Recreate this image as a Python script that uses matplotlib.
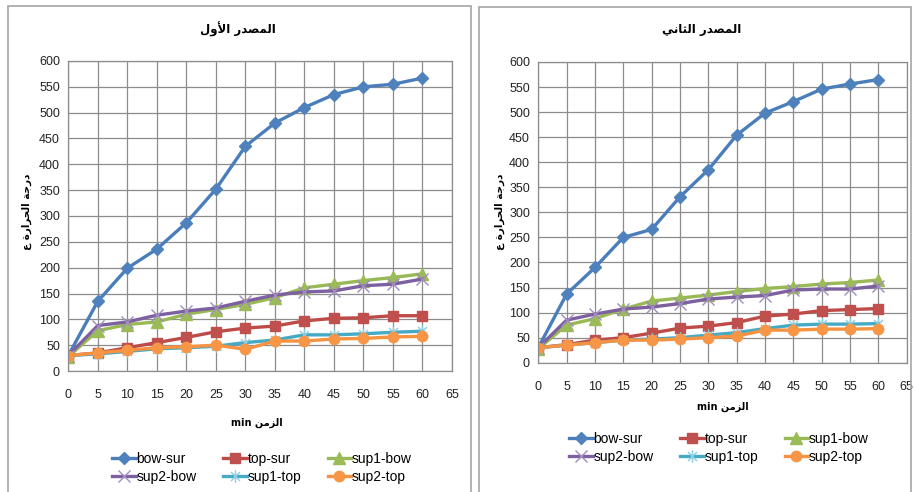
import matplotlib
matplotlib.use("Agg")
import matplotlib.pyplot as plt
from matplotlib.path import Path
from matplotlib.patches import Rectangle

# time axis (min)
minutes = [0, 5, 10, 15, 20, 25, 30, 35, 40, 45, 50, 55, 60]

series_names = ["bow-sur", "top-sur", "sup1-bow", "sup2-bow", "sup1-top", "sup2-top"]

# first source
src1_bow_sur = [30, 135, 199, 236, 287, 352, 435, 480, 510, 535, 550, 555, 567]
src1_top_sur = [30, 35, 45, 55, 65, 76, 83, 87, 97, 102, 103, 107, 107]
src1_sup1_bow = [28, 78, 90, 95, 110, 119, 129, 142, 161, 168, 175, 181, 188]
src1_sup2_bow = [30, 88, 95, 108, 116, 122, 135, 147, 153, 155, 165, 168, 178]
src1_sup1_top = [30, 33, 38, 43, 45, 48, 55, 60, 70, 70, 72, 75, 77]
src1_sup2_top = [30, 35, 40, 45, 47, 50, 42, 58, 58, 62, 63, 66, 67]

# second source
src2_bow_sur = [30, 137, 190, 250, 266, 331, 385, 454, 498, 521, 546, 556, 565]
src2_top_sur = [30, 36, 45, 50, 59, 69, 73, 80, 93, 97, 104, 106, 108]
src2_sup1_bow = [28, 75, 88, 107, 123, 129, 135, 142, 148, 152, 157, 160, 165]
src2_sup2_bow = [30, 85, 97, 107, 111, 118, 127, 131, 134, 145, 147, 147, 153]
src2_sup1_top = [30, 35, 40, 45, 47, 50, 55, 60, 68, 75, 77, 77, 78]
src2_sup2_top = [30, 35, 40, 45, 45, 47, 50, 53, 65, 65, 67, 67, 68]

# excel-like star marker: vertical bar plus a cross
star = Path([(0, -1), (0, 1), (-0.72, -0.72), (0.72, 0.72), (-0.72, 0.72), (0.72, -0.72)],
            [Path.MOVETO, Path.LINETO] * 3)

styles = [
    dict(color="#4A7EBB", marker="D", ms=6, mfc="#4F81BD", mec="#4F81BD"),
    dict(color="#BE4B48", marker="s", ms=7.5, mfc="#C0504D", mec="#C0504D"),
    dict(color="#98B954", marker="^", ms=8.5, mfc="#9BBB59", mec="#9BBB59"),
    dict(color="#7D60A0", marker="x", ms=8, mfc="none", mec="#A08CC0", mew=1.0),
    dict(color="#46AAC5", marker=star, ms=9, mfc="none", mec="#8CCDE0", mew=1.0),
    dict(color="#F69240", marker="o", ms=7.5, mfc="#F79646", mec="#F79646"),
]

# contextual forms for the arabic letters used in the labels
AR_FORMS = {
    "ا": ("\ufe8d", "\ufe8e", None, None),
    "أ": ("\ufe83", "\ufe84", None, None),
    "ة": ("\ufe93", "\ufe94", None, None),
    "ث": ("\ufe99", "\ufe9a", "\ufe9b", "\ufe9c"),
    "ج": ("\ufe9d", "\ufe9e", "\ufe9f", "\ufea0"),
    "ح": ("\ufea1", "\ufea2", "\ufea3", "\ufea4"),
    "د": ("\ufea9", "\ufeaa", None, None),
    "ر": ("\ufead", "\ufeae", None, None),
    "ز": ("\ufeaf", "\ufeb0", None, None),
    "ص": ("\ufeb9", "\ufeba", "\ufebb", "\ufebc"),
    "ع": ("\ufec9", "\ufeca", "\ufecb", "\ufecc"),
    "ل": ("\ufedd", "\ufede", "\ufedf", "\ufee0"),
    "م": ("\ufee1", "\ufee2", "\ufee3", "\ufee4"),
    "ن": ("\ufee5", "\ufee6", "\ufee7", "\ufee8"),
    "و": ("\ufeed", "\ufeee", None, None),
    "ي": ("\ufef1", "\ufef2", "\ufef3", "\ufef4"),
}
LAM_ALEF = {"ا": ("\ufefb", "\ufefc"), "أ": ("\ufef7", "\ufef8")}


def arabic(text):
    # shape letters and reverse them, matplotlib has no bidi support
    out = []
    i = 0
    while i < len(text):
        c = text[i]
        if c not in AR_FORMS:
            out.append(c)
            i += 1
            continue
        prev = text[i - 1] if i > 0 else ""
        joins_prev = prev in AR_FORMS and AR_FORMS[prev][2] is not None
        if c == "ل" and i + 1 < len(text) and text[i + 1] in LAM_ALEF:
            out.append(LAM_ALEF[text[i + 1]][1 if joins_prev else 0])
            i += 2
            continue
        nxt = text[i + 1] if i + 1 < len(text) else ""
        joins_next = AR_FORMS[c][2] is not None and nxt in AR_FORMS
        iso, fin, ini, med = AR_FORMS[c]
        if joins_prev and joins_next:
            out.append(med)
        elif joins_prev:
            out.append(fin)
        elif joins_next:
            out.append(ini)
        else:
            out.append(iso)
        i += 1
    return "".join(reversed(out))


plt.rcParams["font.family"] = ["Liberation Sans Narrow", "Liberation Sans", "DejaVu Sans"]
AR_FONT = ["DejaVu Sans"]

W, H = 914, 492
fig = plt.figure(figsize=(W / 100, H / 100), dpi=100)


def fx(px):
    return px / W


def fy(py):
    return 1 - py / H


# chart frames
fig.patches.append(Rectangle((fx(8), fy(500)), fx(463), fy(6) - fy(500), transform=fig.transFigure,
                             fill=False, ec="#A6A6A6", lw=1.2))
fig.patches.append(Rectangle((fx(479), fy(500)), fx(432), fy(7) - fy(500), transform=fig.transFigure,
                             fill=False, ec="#A6A6A6", lw=1.2))

panels = [
    dict(rect=(68.3, 61, 452, 371), data=[src1_bow_sur, src1_top_sur, src1_sup1_bow,
                                          src1_sup2_bow, src1_sup1_top, src1_sup2_top],
         title="المصدر الأول", title_xy=(238, 29), xlab_xy=(257, 423), ylab_xy=(27, 212),
         leg_xy=(262, 468)),
    dict(rect=(538.3, 62, 906.7, 362.7), data=[src2_bow_sur, src2_top_sur, src2_sup1_bow,
                                               src2_sup2_bow, src2_sup1_top, src2_sup2_top],
         title="المصدر الثاني", title_xy=(702, 30), xlab_xy=(723, 407), ylab_xy=(500, 212),
         leg_xy=(719, 448)),
]

# legend fills column by column, so reorder to read across rows
leg_order = [0, 3, 1, 4, 2, 5]

for p in panels:
    x0, y0, x1, y1 = p["rect"]
    ax = fig.add_axes([fx(x0), fy(y1), fx(x1 - x0), fy(y0) - fy(y1)])
    for name, vals, st in zip(series_names, p["data"], styles):
        ax.plot(minutes, vals, lw=2.4, label=name, solid_joinstyle="round", **st)
    ax.set_xlim(0, 65)
    ax.set_ylim(0, 600)
    ax.set_xticks(range(0, 66, 5))
    ax.set_yticks(range(0, 601, 50))
    ax.grid(True, color="#8C8C8C", lw=0.9)
    ax.set_axisbelow(True)
    for s in ax.spines.values():
        s.set_color("#8C8C8C")
        s.set_linewidth(0.9)
    ax.tick_params(axis="x", length=0, pad=13, labelsize=9, colors="#222222")
    ax.tick_params(axis="y", length=0, pad=6, labelsize=9, colors="#222222")

    fig.text(fx(p["title_xy"][0]), fy(p["title_xy"][1]), arabic(p["title"]), family=AR_FONT,
             fontsize=8.5, fontweight="bold", ha="center", va="center")
    fig.text(fx(p["xlab_xy"][0]), fy(p["xlab_xy"][1]), "min " + arabic("الزمن"), family=AR_FONT,
             fontsize=7, fontweight="bold", ha="center", va="center")
    fig.text(fx(p["ylab_xy"][0]), fy(p["ylab_xy"][1]), arabic("درجة الحرارة ع"), family=AR_FONT,
             fontsize=7.5, fontweight="bold", ha="center", va="center", rotation=90)

    handles, labels = ax.get_legend_handles_labels()
    ax.legend([handles[i] for i in leg_order], [labels[i] for i in leg_order],
              ncol=3, loc="center", bbox_to_anchor=(fx(p["leg_xy"][0]), fy(p["leg_xy"][1])),
              bbox_transform=fig.transFigure, frameon=False, fontsize=10,
              handlelength=1.7, handletextpad=0.05, columnspacing=1.9, labelspacing=0.25,
              borderaxespad=0)

fig.savefig("out.png", dpi=100)
